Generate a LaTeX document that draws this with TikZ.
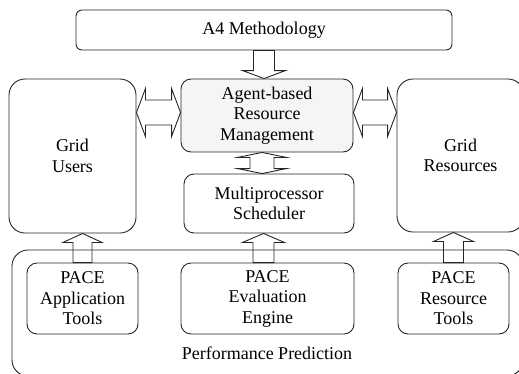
\documentclass[tikz,border=0pt]{standalone}
\usepackage{fontspec}
\setmainfont{Liberation Serif}
\usetikzlibrary{calc}
\definecolor{linegray}{gray}{0.15}
\definecolor{agentfill}{gray}{0.96}

% single block arrow: tail, tip, shaft half width, head half width, head length
\newcommand\blockone[5]{%
\coordinate (bn) at ($(#2)!#5!(#1)$);
\draw[blockarrow] ($(#1)!#3!90:(#2)$) -- ($(bn)!#3!90:(#2)$) -- ($(bn)!#4!90:(#2)$)
  -- (#2) -- ($(bn)!#4!-90:(#2)$) -- ($(bn)!#3!-90:(#2)$) -- ($(#1)!#3!-90:(#2)$) -- cycle;
}
% double block arrow, same arguments
\newcommand\blocktwo[5]{%
\coordinate (bn) at ($(#2)!#5!(#1)$);
\coordinate (bm) at ($(#1)!#5!(#2)$);
\draw[blockarrow] (#1) -- ($(bm)!#4!90:(#2)$) -- ($(bm)!#3!90:(#2)$) -- ($(bn)!#3!90:(#2)$)
  -- ($(bn)!#4!90:(#2)$) -- (#2) -- ($(bn)!#4!-90:(#2)$) -- ($(bn)!#3!-90:(#2)$)
  -- ($(bm)!#3!-90:(#2)$) -- ($(bm)!#4!-90:(#2)$) -- cycle;
}

\begin{document}
\begin{tikzpicture}[x=1pt ,y=-1pt ,
font=\fontsize{18pt}{20.5pt}\selectfont ,
box/.style ={draw=linegray ,line width=0.9pt ,rounded corners=10pt ,
align=center ,inner sep=0pt ,text=black },
bigbox/.style ={box ,rounded corners=16pt },
blockarrow/.style ={draw=linegray ,line width=0.9pt ,line join=miter }]
\useasboundingbox (0,0) rectangle (519,373);
\clip (0,0) rectangle (519,373);

\node[box ,rounded corners=6pt ,minimum width=376pt ,minimum height=40pt] (meth) at (264,30) {A4 Methodology};
\node[box ,fill=agentfill ,minimum width=172pt ,minimum height=73pt] (agent) at (267,115.5) {Agent-based\\Resource\\Management};
\node[bigbox ,minimum width=127pt ,minimum height=154pt] (users) at (72.5,156) {Grid\\Users};
\node[bigbox ,minimum width=127pt ,minimum height=153pt] (res) at (460.5,155.5) {Grid\\Resources};
\node[box ,minimum width=170pt ,minimum height=59pt] (multi) at (269,203.5) {Multiprocessor\\Scheduler};

\node[bigbox ,minimum width=511pt ,minimum height=126pt] (perf) at (267.5,313) {};
\node (perflabel) at (267,353) {Performance Prediction};
\node[box ,minimum width=111pt ,minimum height=71pt] (app) at (82.5,298.5) {PACE\\Application\\Tools};
\node[box ,minimum width=173pt ,minimum height=71pt] (eval) at (267.5,298.5) {PACE\\Evaluation\\Engine};
\node[box ,minimum width=111pt ,minimum height=71pt] (rtools) at (453.5,298.5) {PACE\\Resource\\Tools};

% block arrows
\coordinate (agentbot) at ([xshift=-5pt]agent.south);
\coordinate (agentleft) at ([yshift=3pt]agent.west);
\coordinate (agentright) at ([yshift=3pt]agent.east);
\coordinate (evaltop) at ([xshift=-4pt]eval.north);
\coordinate (methtip) at (meth.south |- agent.north);
\coordinate (multitip) at (agentbot |- multi.north);
\coordinate (userstip) at (users.east |- agentleft);
\coordinate (restip) at (res.west |- agentright);
\coordinate (appto) at (app.north |- users.south);
\coordinate (evalto) at (evaltop |- multi.south);
\coordinate (rtoolsto) at (rtools.north |- res.south);

\blockone{meth.south}{methtip}{10.5pt}{21.5pt}{8pt}
\blocktwo{agentbot}{multitip}{12pt}{24.5pt}{5pt}
\blocktwo{userstip}{agentleft}{12.5pt}{24pt}{9pt}
\blocktwo{agentright}{restip}{12.5pt}{24pt}{9pt}
\blockone{app.north}{appto}{9.5pt}{19.5pt}{9pt}
\blockone{evaltop}{evalto}{10.5pt}{21pt}{9pt}
\blockone{rtools.north}{rtoolsto}{10pt}{20pt}{9pt}
\end{tikzpicture}
\end{document}
